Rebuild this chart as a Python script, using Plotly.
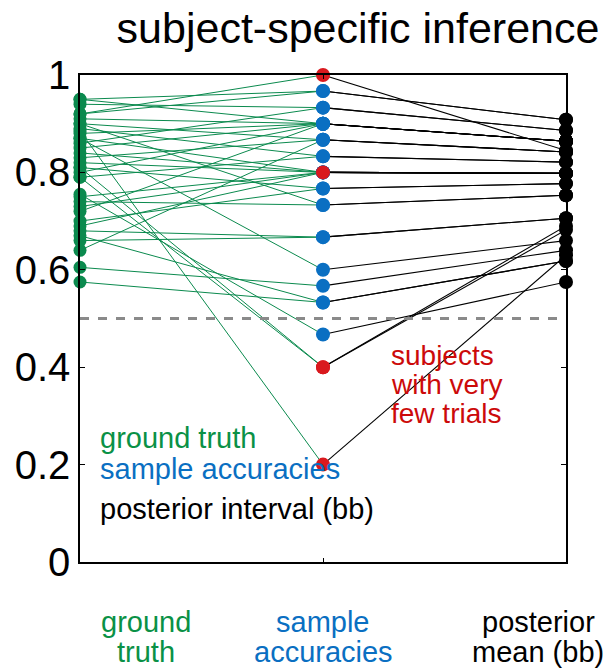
import plotly.graph_objects as go

# ---- data ----
ground_truth = [0.92, 0.95, 0.92, 0.94, 0.86, 0.95, 0.91, 0.88, 0.85, 0.80,
                0.72, 0.90, 0.83, 0.64, 0.89, 0.79, 0.87, 0.84, 0.82, 0.75,
                0.73, 0.69, 0.81, 0.70, 0.90, 0.74, 0.68, 0.66, 0.87, 0.605,
                0.575, 0.67, 0.755, 0.81, 0.79, 0.885]
sample_acc = [1.0, 0.967, 0.967, 0.933, 0.933, 0.9, 0.9, 0.9, 0.9, 0.9,
              0.9, 0.867, 0.867, 0.867, 0.833, 0.833, 0.8, 0.8, 0.8, 0.8,
              0.8, 0.8, 0.767, 0.767, 0.733, 0.733, 0.667, 0.667, 0.6, 0.567,
              0.533, 0.533, 0.467, 0.4, 0.4, 0.2]
posterior_mean = [0.845, 0.908, 0.908, 0.886, 0.886, 0.864, 0.864, 0.864, 0.864, 0.864,
                  0.864, 0.842, 0.842, 0.842, 0.821, 0.821, 0.798, 0.798, 0.798, 0.798,
                  0.798, 0.798, 0.777, 0.777, 0.753, 0.753, 0.706, 0.706, 0.660, 0.640,
                  0.618, 0.618, 0.575, 0.690, 0.682, 0.630]
few_trials = [True] + [False] * 20 + [True] + [False] * 11 + [True, True, True]

stage_x = [1, 2, 3]
stage_labels = [["ground", "truth"], ["sample", "accuracies"], ["posterior", "mean (bb)"]]
note_lines = ["subjects", "with very", "few trials"]
y_ticks = [0, 0.2, 0.4, 0.6, 0.8, 1]
y_ticklabels = ["0", "0.2", "0.4", "0.6", "0.8", "1"]

GREEN = "#0b8a4e"
GREEN_TXT = "#0a9146"
BLUE = "#0a6fc2"
RED = "#d9191e"
RED_TXT = "#cc0a0a"
FONT = "Liberation Sans, Arial, sans-serif"

fig = go.Figure()

# green lines ground truth -> sample accuracy
gx, gy = [], []
for g, s in zip(ground_truth, sample_acc):
    gx += [stage_x[0], stage_x[1], None]
    gy += [g, s, None]
fig.add_trace(go.Scatter(x=gx, y=gy, mode="lines",
                         line=dict(color=GREEN, width=1), hoverinfo="skip",
                         cliponaxis=False))

# black lines sample accuracy -> posterior mean
bx, by = [], []
for s, p in zip(sample_acc, posterior_mean):
    bx += [stage_x[1], stage_x[2], None]
    by += [s, p, None]
fig.add_trace(go.Scatter(x=bx, y=by, mode="lines",
                         line=dict(color="black", width=1.1), hoverinfo="skip",
                         cliponaxis=False))

# markers
fig.add_trace(go.Scatter(x=[stage_x[0]] * len(ground_truth), y=ground_truth,
                         mode="markers", marker=dict(color=GREEN, size=13),
                         cliponaxis=False))
blue_y = [s for s, f in zip(sample_acc, few_trials) if not f]
red_y = [s for s, f in zip(sample_acc, few_trials) if f]
fig.add_trace(go.Scatter(x=[stage_x[1]] * len(blue_y), y=blue_y, mode="markers",
                         marker=dict(color=BLUE, size=14), cliponaxis=False))
fig.add_trace(go.Scatter(x=[stage_x[1]] * len(red_y), y=red_y, mode="markers",
                         marker=dict(color=RED, size=14), cliponaxis=False))
fig.add_trace(go.Scatter(x=[stage_x[2]] * len(posterior_mean), y=posterior_mean,
                         mode="markers", marker=dict(color="black", size=14),
                         cliponaxis=False))

# chance line
fig.add_shape(type="line", x0=1, x1=3, y0=0.5, y1=0.5, xref="x", yref="y",
              line=dict(color="#8a8a8a", width=3, dash="dash"), layer="above")

# inner texts
inner = [("ground truth", GREEN_TXT, 0.255), ("sample accuracies", BLUE, 0.19),
         ("posterior interval (bb)", "black", 0.108)]
for txt, col, yy in inner:
    fig.add_annotation(x=1.074, y=yy, xref="x", yref="y", text=txt, showarrow=False,
                       xanchor="left", yanchor="middle",
                       font=dict(family=FONT, size=29, color=col))

# red note, lines set tightly like the reference
for i, txt in enumerate(note_lines):
    fig.add_annotation(x=2.272, y=0.425 - i * 0.0605, xref="x", yref="y", text=txt,
                       showarrow=False, xanchor="left", yanchor="middle",
                       font=dict(family=FONT, size=28, color=RED_TXT))

# bottom stage labels
label_cols = [GREEN_TXT, BLUE, "black"]
label_x = [1.272, 2.0, 2.885]
for lines, col, lx in zip(stage_labels, label_cols, label_x):
    for i, ln in enumerate(lines):
        fig.add_annotation(x=lx, y=-0.123 - i * 0.0616, xref="x", yref="paper",
                           text=ln, showarrow=False, xanchor="center", yanchor="middle",
                           font=dict(family=FONT, size=29, color=col))

fig.update_layout(
    width=606, height=669,
    margin=dict(l=80, r=40, t=75, b=107),
    plot_bgcolor="white", paper_bgcolor="white",
    showlegend=False,
    font=dict(family=FONT, color="black"),
    title=dict(text="subject-specific inference", x=358 / 606, xanchor="center",
               xref="container", y=1 - 28 / 669, yanchor="middle", yref="container",
               font=dict(family=FONT, size=43, color="black")),
)
fig.update_xaxes(range=[1, 3], tickvals=stage_x, ticktext=["", "", ""],
                 showgrid=False, zeroline=False, showline=True, linecolor="black",
                 linewidth=1.5, mirror="ticks", ticks="inside", ticklen=4,
                 tickcolor="black")
fig.update_yaxes(range=[0, 1], tickvals=y_ticks, ticktext=y_ticklabels,
                 showgrid=False, zeroline=False, showline=True, linecolor="black",
                 linewidth=1.5, mirror="ticks", ticks="inside", ticklen=5,
                 tickcolor="black", tickfont=dict(family=FONT, size=40, color="black"))

fig.write_html("out.html")
